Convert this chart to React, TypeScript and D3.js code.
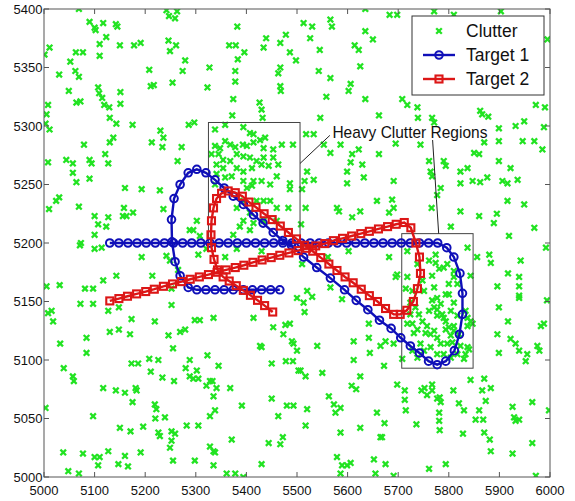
import React from 'react';
import * as d3 from 'd3';

// axis ticks
const xTicks = [5000, 5100, 5200, 5300, 5400, 5500, 5600, 5700, 5800, 5900, 6000];
const yTicks = [5000, 5050, 5100, 5150, 5200, 5250, 5300, 5350, 5400];

// target 1 (blue, circles) in path order
const target1: number[][] = [
  [5130, 5200], [5148, 5200], [5166, 5200], [5184, 5200], [5202, 5200], [5220, 5200], [5238, 5200],
  [5256, 5200], [5274, 5200], [5292, 5200], [5310, 5200], [5328, 5200], [5346, 5200], [5364, 5200],
  [5382, 5200], [5400, 5200], [5418, 5200], [5436, 5200], [5454, 5200], [5472, 5200], [5490, 5200],
  [5508, 5200], [5526, 5200], [5544, 5200], [5562, 5200], [5580, 5200], [5598, 5200], [5616, 5200],
  [5634, 5200], [5652, 5200], [5670, 5200], [5688, 5200], [5706, 5200], [5724, 5200], [5742, 5200],
  [5760, 5200], [5778, 5200],
  [5796, 5196], [5810, 5188], [5822, 5174], [5827, 5157], [5827, 5139], [5821, 5122], [5811, 5108],
  [5794, 5099], [5777, 5096], [5760, 5099], [5742, 5106], [5724, 5112], [5705, 5119], [5686, 5127],
  [5663, 5134], [5640, 5143], [5617, 5151], [5594, 5160], [5566, 5170], [5539, 5179], [5513, 5188],
  [5489, 5198], [5472, 5202], [5453, 5209], [5433, 5217], [5414, 5224], [5394, 5233], [5374, 5240],
  [5356, 5247], [5338, 5254], [5320, 5260], [5302, 5263], [5285, 5260], [5269, 5250], [5257, 5238],
  [5252, 5220], [5253, 5201], [5259, 5184], [5269, 5172], [5285, 5162],
  [5302, 5160], [5320, 5160], [5338, 5160], [5356, 5160], [5374, 5160], [5394, 5160], [5412, 5160],
  [5430, 5160], [5448, 5160], [5466, 5160],
];

// target 2 (red, squares) in path order
const target2: number[][] = [
  [5130, 5150.5], [5148, 5152.5], [5165, 5154.5], [5183, 5156.5], [5201, 5158.5], [5218, 5160.5],
  [5236, 5163], [5254, 5165], [5272, 5167], [5289, 5169], [5307, 5171], [5325, 5173], [5342, 5175],
  [5360, 5177], [5378, 5179], [5395, 5181], [5413, 5183.5], [5431, 5185.5], [5449, 5187.5],
  [5466, 5189.5], [5484, 5191.5], [5502, 5193.5], [5519, 5195.5], [5537, 5197.5], [5555, 5199.5],
  [5572, 5202], [5590, 5204], [5608, 5206], [5626, 5208], [5643, 5210], [5661, 5212], [5679, 5214],
  [5696, 5216], [5712, 5217.5],
  [5725, 5213], [5735, 5200], [5742, 5188], [5744, 5174], [5738, 5161], [5730, 5150], [5717, 5142.5],
  [5704, 5139],
  [5691, 5139], [5675, 5144], [5659, 5150], [5643, 5155], [5627, 5160.5], [5611, 5166], [5595, 5171],
  [5579, 5176.5], [5563, 5182], [5547, 5187.5], [5531, 5193], [5515, 5198], [5499, 5203.5],
  [5483, 5209], [5467, 5214.5], [5451, 5220], [5435, 5225], [5419, 5230.5], [5405, 5235],
  [5392, 5240], [5378, 5243], [5364, 5244.5], [5351, 5242.5], [5341, 5238], [5335, 5230], [5331, 5219],
  [5330, 5207], [5331, 5196], [5336, 5186], [5343, 5177], [5354, 5171], [5366, 5167.5], [5380, 5163.5],
  [5394, 5159.5], [5408, 5155.3], [5422, 5151], [5436, 5146.5], [5452, 5141],
];

// clutter detections
const clutter: number[][] = [
  [5069, 5400], [5090, 5389], [5100, 5384], [5102, 5382], [5117, 5388], [5142, 5387], [5145, 5385],
  [5242, 5399], [5247, 5394], [5259, 5392], [5263, 5398], [5011, 5367], [5001, 5361], [5063, 5363],
  [5077, 5363], [5110, 5370], [5110, 5360], [5123, 5376], [5150, 5369], [5178, 5369], [5191, 5371],
  [5246, 5373], [5249, 5364], [5261, 5369], [5279, 5356], [5274, 5347], [5208, 5348], [5211, 5334],
  [5217, 5335], [5254, 5337], [5327, 5350], [5323, 5333], [5366, 5369], [5379, 5369], [5383, 5357],
  [5396, 5363], [5382, 5385], [5439, 5375], [5434, 5367], [5467, 5371], [5478, 5378], [5486, 5363],
  [5498, 5356], [5467, 5350], [5463, 5345], [5467, 5334], [5468, 5330], [5030, 5344], [5052, 5355],
  [5062, 5347], [5069, 5342], [5049, 5330], [5064, 5320], [5072, 5321], [5107, 5333], [5109, 5328],
  [5115, 5324], [5119, 5318], [5129, 5316], [5151, 5329], [5151, 5319], [5008, 5318], [5005, 5310],
  [5003, 5302], [5011, 5297], [5378, 5347], [5378, 5338], [5374, 5323], [5372, 5309], [5426, 5320],
  [5430, 5314], [5432, 5307], [5175, 5301], [5130, 5307], [5143, 5302], [5230, 5296], [5236, 5290],
  [5213, 5286], [5234, 5282], [5272, 5282], [5264, 5270], [5286, 5301], [5297, 5303], [5137, 5290],
  [5130, 5286], [5079, 5284], [5121, 5276], [5127, 5268], [5044, 5271], [5057, 5268], [5057, 5260],
  [5064, 5252], [5090, 5271], [5094, 5268], [5090, 5255], [5008, 5269], [5030, 5239], [5024, 5236],
  [5010, 5229], [5069, 5231], [5160, 5247], [5193, 5246], [5229, 5245], [5158, 5230], [5156, 5223],
  [5163, 5223], [5176, 5226], [5100, 5223], [5127, 5222], [5107, 5216], [5123, 5214], [5100, 5207],
  [5236, 5229], [5073, 5200],
  [5338, 5297], [5358, 5301], [5394, 5299], [5407, 5294], [5414, 5293], [5427, 5288], [5437, 5290],
  [5358, 5287], [5368, 5284], [5338, 5283], [5348, 5281], [5378, 5282], [5393, 5284], [5401, 5283],
  [5414, 5286], [5434, 5281], [5453, 5280], [5470, 5284], [5492, 5284], [5331, 5276], [5345, 5276],
  [5354, 5271], [5368, 5270], [5381, 5276], [5394, 5274], [5407, 5273], [5420, 5270], [5434, 5273],
  [5453, 5273], [5463, 5267], [5341, 5267], [5354, 5264], [5381, 5264], [5394, 5261], [5411, 5264],
  [5430, 5267], [5444, 5266], [5460, 5257], [5341, 5259], [5358, 5256], [5371, 5257], [5394, 5253],
  [5414, 5253], [5430, 5253], [5447, 5250], [5486, 5251], [5486, 5246], [5338, 5250], [5401, 5247],
  [5411, 5249], [5394, 5236], [5420, 5236], [5434, 5236], [5447, 5236], [5460, 5230], [5483, 5230],
  [5381, 5230], [5407, 5226], [5394, 5219], [5414, 5217], [5434, 5219], [5460, 5219], [5387, 5214],
  [5407, 5211], [5374, 5207], [5295, 5211], [5288, 5211], [5302, 5219], [5308, 5206],
  [5513, 5388], [5530, 5385], [5566, 5391], [5569, 5385], [5635, 5400], [5683, 5395], [5698, 5395],
  [5771, 5398], [5810, 5395], [5903, 5398], [5526, 5375], [5545, 5365], [5635, 5381], [5650, 5374],
  [5614, 5369], [5622, 5365], [5625, 5351], [5566, 5341], [5606, 5336], [5602, 5330], [5558, 5325],
  [5635, 5323], [5543, 5347], [5708, 5323], [5718, 5318], [5738, 5316], [5739, 5307], [5767, 5307],
  [5771, 5303], [5995, 5374], [5972, 5318], [5990, 5316], [5899, 5298], [5932, 5300], [5949, 5304],
  [5988, 5299], [5862, 5313], [5866, 5310], [5878, 5308], [5662, 5309], [5546, 5307], [5518, 5293],
  [5533, 5293], [5553, 5284], [5566, 5277], [5586, 5284], [5609, 5276], [5622, 5280], [5606, 5269],
  [5599, 5261], [5629, 5267], [5599, 5251], [5632, 5256], [5662, 5276], [5695, 5285], [5744, 5284],
  [5761, 5270], [5764, 5261], [5790, 5270], [5794, 5266], [5823, 5261], [5837, 5264], [5850, 5277],
  [5860, 5276], [5870, 5286], [5899, 5287], [5899, 5270], [5922, 5264], [5936, 5254], [5906, 5253],
  [5916, 5251], [5946, 5287], [5969, 5287], [5985, 5280], [5823, 5251], [5847, 5253], [5862, 5252],
  [5876, 5256], [5916, 5236], [5949, 5233], [5969, 5213], [5919, 5206], [5823, 5227], [5860, 5223],
  [5895, 5225], [5889, 5217], [5804, 5214], [5777, 5241], [5784, 5247], [5767, 5257], [5766, 5230],
  [5691, 5253], [5688, 5237], [5691, 5230], [5658, 5236], [5682, 5226], [5625, 5227], [5609, 5222],
  [5579, 5230], [5583, 5227], [5510, 5246], [5515, 5253], [5517, 5230], [5508, 5216], [5520, 5261],
  [5533, 5254],
  [5071, 5198], [5100, 5195], [5114, 5196], [5193, 5188], [5242, 5189], [5249, 5185], [5305, 5190],
  [5358, 5188], [5321, 5195], [5381, 5195], [5430, 5193], [5005, 5163], [5031, 5164], [5081, 5161],
  [5097, 5161], [5117, 5168], [5143, 5172], [5214, 5172], [5252, 5161], [5265, 5177], [5008, 5140],
  [5015, 5142], [5018, 5133], [5072, 5148], [5097, 5148], [5127, 5142], [5148, 5145], [5173, 5135],
  [5219, 5133], [5252, 5147], [5298, 5134], [5308, 5134], [5335, 5136], [5414, 5136], [5453, 5128],
  [5477, 5130], [5486, 5131], [5473, 5122], [5490, 5116], [5493, 5114], [5500, 5108], [5427, 5112],
  [5430, 5111], [5032, 5114], [5084, 5119], [5084, 5106], [5130, 5124], [5148, 5126], [5170, 5122],
  [5246, 5121], [5269, 5124], [5279, 5126], [5255, 5110], [5323, 5104], [5288, 5100], [5280, 5093],
  [5302, 5091], [5288, 5086], [5295, 5084], [5305, 5084], [5328, 5082], [5341, 5076], [5345, 5095],
  [5368, 5076], [5333, 5082], [5335, 5069], [5321, 5078], [5173, 5097], [5186, 5097], [5208, 5101],
  [5226, 5100], [5211, 5090], [5234, 5085], [5257, 5082], [5039, 5093], [5057, 5086], [5059, 5082],
  [5117, 5076], [5142, 5074], [5160, 5072], [5181, 5076], [5183, 5074], [5175, 5064], [5003, 5059],
  [5097, 5052], [5150, 5042], [5171, 5039], [5196, 5043], [5219, 5062], [5222, 5058], [5220, 5050],
  [5239, 5051], [5226, 5038], [5229, 5035], [5252, 5039], [5259, 5037], [5252, 5031], [5249, 5025],
  [5282, 5044], [5305, 5044], [5328, 5052], [5338, 5057], [5328, 5026], [5335, 5022], [5338, 5021],
  [5255, 5014], [5298, 5014], [5335, 5010], [5371, 5032], [5391, 5061], [5361, 5003], [5378, 5003],
  [5394, 5000], [5430, 5011], [5444, 5029], [5467, 5028], [5472, 5034], [5480, 5061], [5493, 5061],
  [5450, 5067], [5463, 5052], [5450, 5097], [5478, 5099], [5492, 5099], [5503, 5091], [5038, 5021],
  [5077, 5020], [5100, 5017], [5110, 5017], [5107, 5010], [5127, 5022], [5147, 5011], [5160, 5018],
  [5166, 5009], [5191, 5021], [5048, 5005], [5069, 5003],
  [5837, 5196], [5856, 5188], [5880, 5190], [5883, 5183], [5942, 5185], [5992, 5196], [5510, 5182],
  [5500, 5153], [5515, 5141], [5520, 5159], [5530, 5154], [5513, 5149], [5589, 5152], [5566, 5162],
  [5561, 5188], [5602, 5193], [5682, 5188], [5698, 5173], [5695, 5171], [5718, 5171], [5774, 5183],
  [5767, 5172], [5790, 5179], [5810, 5171], [5817, 5165], [5843, 5172], [5715, 5161], [5728, 5159],
  [5751, 5159], [5771, 5162], [5777, 5153], [5800, 5156], [5771, 5145], [5777, 5138], [5790, 5136],
  [5804, 5142], [5817, 5138], [5718, 5131], [5731, 5123], [5754, 5123], [5771, 5125], [5794, 5126],
  [5804, 5121], [5810, 5129], [5837, 5129], [5847, 5131], [5833, 5105], [5837, 5111], [5840, 5109],
  [5896, 5163], [5917, 5174], [5939, 5171], [5939, 5163], [5939, 5155], [5939, 5153], [5899, 5145],
  [5917, 5133], [5896, 5122], [5922, 5118], [5932, 5114], [5939, 5108], [5955, 5105], [5952, 5099],
  [5975, 5112], [5982, 5129], [5988, 5131], [5994, 5151], [5979, 5108], [5899, 5106], [5540, 5112],
  [5612, 5116], [5642, 5131], [5642, 5119], [5644, 5106], [5665, 5112], [5675, 5116], [5691, 5114],
  [5612, 5100], [5672, 5095], [5708, 5101], [5507, 5091], [5517, 5086], [5550, 5089], [5625, 5086],
  [5608, 5078], [5617, 5075], [5563, 5069], [5573, 5062], [5576, 5055], [5586, 5059], [5520, 5058],
  [5517, 5044], [5586, 5038], [5625, 5042], [5658, 5055], [5673, 5046], [5665, 5034], [5668, 5034],
  [5698, 5079], [5713, 5074], [5713, 5066], [5715, 5057], [5736, 5045], [5746, 5074], [5752, 5076],
  [5757, 5070], [5767, 5079], [5767, 5074], [5777, 5067], [5782, 5068], [5784, 5064], [5781, 5055],
  [5781, 5048], [5782, 5040], [5809, 5074], [5820, 5063], [5830, 5057], [5828, 5037], [5843, 5083],
  [5866, 5074], [5870, 5084], [5873, 5065], [5883, 5076], [5860, 5057], [5853, 5049], [5868, 5049],
  [5870, 5038], [5881, 5032], [5883, 5022], [5926, 5060], [5929, 5051], [5932, 5048], [5939, 5049],
  [5965, 5064], [5965, 5029], [5926, 5020], [5998, 5057], [5579, 5017], [5589, 5010], [5599, 5010],
  [5606, 5012], [5586, 5003], [5652, 5015], [5675, 5011], [5655, 5003], [5691, 5001], [5761, 5007],
  [5794, 5011], [5972, 5001],
  [5718, 5193], [5738, 5182], [5761, 5185], [5774, 5190], [5781, 5178], [5797, 5182], [5810, 5176],
  [5724, 5149], [5734, 5145], [5741, 5139], [5748, 5133], [5761, 5142], [5777, 5143], [5787, 5139],
  [5794, 5133], [5800, 5128], [5810, 5125], [5724, 5139], [5728, 5131], [5738, 5126], [5757, 5129],
  [5764, 5122], [5777, 5119], [5784, 5114], [5797, 5114], [5807, 5115], [5820, 5122], [5823, 5112],
  [5764, 5111], [5744, 5114], [5728, 5108], [5738, 5102], [5751, 5108], [5777, 5105], [5790, 5105],
  [5804, 5102], [5817, 5105], [5830, 5101], [5767, 5151], [5784, 5148], [5810, 5149], [5800, 5165],
  [5748, 5168], [5794, 5156], [5833, 5142], [5837, 5136], [5843, 5133],
];

// heavy clutter regions [xMin, xMax, yMin, yMax]
const regions: number[][] = [
  [5325, 5506, 5200, 5303],
  [5707, 5848, 5093, 5208],
];
const annotation = 'Heavy Clutter Regions';
const annotationAt = [5570, 5290];
// leader lines [x1, y1, x2, y2]
const leaders: number[][] = [
  [5565, 5292, 5506, 5268],
  [5768, 5288, 5780, 5208],
];
const legendLabels = ['Clutter', 'Target 1', 'Target 2'];

const width = 575;
const height = 501;
const GREEN = '#22e322';
const BLUE = '#0f0fb8';
const RED = '#dc1616';
const FONT = '"Liberation Sans", Arial, sans-serif';

function Cross({ cx, cy, r = 2.8 }: { cx: number; cy: number; r?: number }) {
  return (
    <g stroke={GREEN} strokeWidth={2.3}>
      <line x1={cx - r} y1={cy - r} x2={cx + r} y2={cy + r} />
      <line x1={cx - r} y1={cy + r} x2={cx + r} y2={cy - r} />
    </g>
  );
}

export default function App() {
  const x = d3.scaleLinear().domain([5000, 6000]).range([44, 550]);
  const y = d3.scaleLinear().domain([5000, 5400]).range([477, 9]);
  const line = d3.line<number[]>().x(d => x(d[0])).y(d => y(d[1]));

  const [x0, x1] = x.range();
  const [y0, y1] = y.range();
  const tick = 5;

  const lgX = 412, lgY = 16, lgW = 132, lgH = 79;
  const rows = [31, 55, 79];
  const sq = 3.5;

  return (
    <div>
      <style>{'body{margin:0}'}</style>
      <svg width={width} height={height} style={{ display: 'block', background: '#fff' }}>
        <defs>
          <clipPath id="plot">
            <rect x={x0} y={y1} width={x1 - x0} height={y0 - y1} />
          </clipPath>
        </defs>

        {/* clutter */}
        <g clipPath="url(#plot)">
          {clutter.map((d, i) => <Cross key={i} cx={x(d[0])} cy={y(d[1])} />)}
        </g>

        {/* heavy clutter boxes */}
        {regions.map((r, i) => (
          <rect key={i} x={x(r[0])} y={y(r[3])} width={x(r[1]) - x(r[0])} height={y(r[2]) - y(r[3])}
            fill="none" stroke="#444" strokeWidth={1} />
        ))}
        {leaders.map((l, i) => (
          <line key={i} x1={x(l[0])} y1={y(l[1])} x2={x(l[2])} y2={y(l[3])} stroke="#222" strokeWidth={1} />
        ))}
        <text x={x(annotationAt[0])} y={y(annotationAt[1])} fontFamily={FONT} fontSize={17}
          textLength={155} lengthAdjust="spacingAndGlyphs" fill="#111">{annotation}</text>

        {/* target 1 */}
        <path d={line(target1) || ''} fill="none" stroke={BLUE} strokeWidth={2.4} />
        {target1.map((d, i) => (
          <circle key={i} cx={x(d[0])} cy={y(d[1])} r={3.8} fill="none" stroke={BLUE} strokeWidth={2} />
        ))}

        {/* target 2 */}
        <path d={line(target2) || ''} fill="none" stroke={RED} strokeWidth={2.4} />
        {target2.map((d, i) => (
          <rect key={i} x={x(d[0]) - sq} y={y(d[1]) - sq} width={sq * 2} height={sq * 2}
            fill="none" stroke={RED} strokeWidth={2.1} />
        ))}

        {/* axes frame */}
        <rect x={x0} y={y1} width={x1 - x0} height={y0 - y1} fill="none" stroke="#555" strokeWidth={1} />
        {xTicks.map(t => (
          <g key={t}>
            <line x1={x(t)} x2={x(t)} y1={y0} y2={y0 - tick} stroke="#555" />
            <line x1={x(t)} x2={x(t)} y1={y1} y2={y1 + tick} stroke="#555" />
            <text x={x(t)} y={495} textAnchor="middle" fontFamily={FONT} fontSize={13} fill="#111">{t}</text>
          </g>
        ))}
        {yTicks.map(t => (
          <g key={t}>
            <line x1={x0} x2={x0 + tick} y1={y(t)} y2={y(t)} stroke="#555" />
            <line x1={x1} x2={x1 - tick} y1={y(t)} y2={y(t)} stroke="#555" />
            <text x={x0 - 1.5} y={y(t)} dy="0.35em" textAnchor="end" fontFamily={FONT} fontSize={13} fill="#111">{t}</text>
          </g>
        ))}

        {/* legend */}
        <rect x={lgX} y={lgY} width={lgW} height={lgH} fill="#fff" stroke="#333" strokeWidth={1} />
        <Cross cx={439} cy={rows[0]} />
        <line x1={423} x2={455} y1={rows[1]} y2={rows[1]} stroke={BLUE} strokeWidth={2.4} />
        <circle cx={439} cy={rows[1]} r={3.8} fill="none" stroke={BLUE} strokeWidth={2} />
        <line x1={423} x2={455} y1={rows[2]} y2={rows[2]} stroke={RED} strokeWidth={2.4} />
        <rect x={439 - sq} y={rows[2] - sq} width={sq * 2} height={sq * 2} fill="none" stroke={RED} strokeWidth={2.1} />
        {legendLabels.map((l, i) => (
          <text key={l} x={466} y={rows[i]} dy="0.36em" fontFamily={FONT} fontSize={17.5} fill="#111">{l}</text>
        ))}
      </svg>
    </div>
  );
}
